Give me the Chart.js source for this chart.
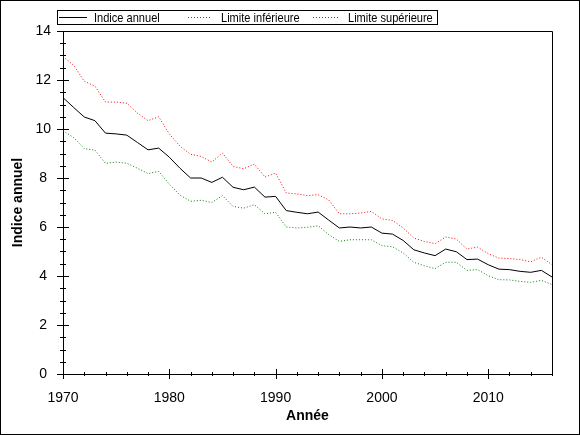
<!DOCTYPE html>
<html>
<head>
<meta charset="utf-8">
<script src="https://cdn.jsdelivr.net/npm/chart.js@4"></script>
<style>
  html, body { margin: 0; padding: 0; background: #fff; }
  #wrap { width: 580px; height: 435px; position: relative; }
</style>
</head>
<body>
<div id="wrap"><canvas id="myChart" width="580" height="435"></canvas></div>
<script>
// Données
let annees = [];
for (let a = 1970; a <= 2016; a++) annees.push(a);

let indiceAnnuel = [11.28, 10.88, 10.49, 10.34, 9.83, 9.8, 9.75, 9.45, 9.15, 9.22,
  8.85, 8.4, 8.0, 8.0, 7.82, 8.03, 7.62, 7.52, 7.63, 7.22,
  7.25, 6.67, 6.6, 6.54, 6.61, 6.28, 5.96, 6.0, 5.96, 6.0,
  5.75, 5.71, 5.45, 5.07, 4.94, 4.83, 5.1, 4.99, 4.67, 4.69,
  4.46, 4.28, 4.26, 4.19, 4.15, 4.23, 3.96];

let limiteInf = [9.93, 9.65, 9.2, 9.14, 8.6, 8.65, 8.6, 8.4, 8.18, 8.27,
  7.75, 7.3, 7.05, 7.09, 7.0, 7.28, 6.84, 6.77, 6.91, 6.54,
  6.6, 6.0, 5.96, 5.99, 6.05, 5.69, 5.41, 5.48, 5.48, 5.48,
  5.24, 5.19, 4.94, 4.56, 4.42, 4.3, 4.56, 4.56, 4.23, 4.26,
  4.01, 3.85, 3.84, 3.78, 3.74, 3.82, 3.65];

let limiteSup = [12.95, 12.6, 11.95, 11.75, 11.1, 11.1, 11.05, 10.65, 10.34, 10.5,
  9.8, 9.3, 8.97, 8.88, 8.65, 9.02, 8.47, 8.38, 8.57, 8.04,
  8.2, 7.39, 7.35, 7.28, 7.32, 7.1, 6.54, 6.54, 6.57, 6.64,
  6.33, 6.27, 5.96, 5.55, 5.41, 5.32, 5.59, 5.51, 5.1, 5.18,
  4.91, 4.73, 4.71, 4.67, 4.58, 4.77, 4.46];

let ticksX = [1970, 1980, 1990, 2000, 2010];
let ticksY = [0, 2, 4, 6, 8, 10, 12, 14];

let nomsSeries = ['Indice annuel', 'Limite inférieure', 'Limite supérieure'];
let couleurs = ['#000000', '#008000', '#ff0000'];

function points(valeurs) {
  return annees.map(function (a, i) { return { x: a, y: valeurs[i] }; });
}

let police = '"Liberation Sans", Arial, sans-serif';

// Cadre, graduations et légende dessinés à la main
const decor = {
  id: 'decor',
  afterDraw(chart) {
    const ctx = chart.ctx;
    const area = chart.chartArea;
    const sx = chart.scales.x;
    const sy = chart.scales.y;
    ctx.save();
    ctx.strokeStyle = '#000';
    ctx.lineWidth = 1;

    // bord de l'image
    ctx.strokeRect(0.5, 0.5, chart.width - 1, chart.height - 1);

    // haut et droite du cadre
    ctx.beginPath();
    ctx.moveTo(Math.round(area.left) + 0.5, Math.round(area.top) + 0.5);
    ctx.lineTo(Math.round(area.right) + 0.5, Math.round(area.top) + 0.5);
    ctx.lineTo(Math.round(area.right) + 0.5, Math.round(area.bottom) + 0.5);
    ctx.stroke();

    // graduations X
    ctx.beginPath();
    for (let a = 1970; a <= 2016; a += 2) {
      const px = Math.round(sx.getPixelForValue(a)) + 0.5;
      const l = (a % 10 === 0) ? 5 : 2;
      ctx.moveTo(px, area.bottom - l);
      ctx.lineTo(px, area.bottom + l);
    }
    // graduations Y
    for (let v = 0; v <= 14; v += 0.5) {
      const py = Math.round(sy.getPixelForValue(v)) + 0.5;
      const l = (v % 2 === 0) ? 6 : 3;
      ctx.moveTo(area.left - l, py);
      ctx.lineTo(area.left + l, py);
    }
    ctx.stroke();

    // légende
    ctx.strokeRect(57.5, 10.5, 380, 14);
    const items = [
      { x: 59, w: 28, tx: 94 },
      { x: 188, w: 24, tx: 221 },
      { x: 313, w: 25, tx: 348 }
    ];
    ctx.font = '13px ' + police;
    ctx.textBaseline = 'middle';
    items.forEach(function (it, i) {
      ctx.beginPath();
      ctx.strokeStyle = couleurs[i];
      ctx.setLineDash(i === 0 ? [] : [1, 2]);
      ctx.moveTo(it.x, 17.5);
      ctx.lineTo(it.x + it.w, 17.5);
      ctx.stroke();
      ctx.setLineDash([]);
      ctx.fillStyle = '#000';
      ctx.save();
      ctx.translate(it.tx, 18);
      ctx.scale(0.85, 1);
      ctx.fillText(nomsSeries[i], 0, 0);
      ctx.restore();
    });
    ctx.restore();
  }
};

const ctx = document.getElementById('myChart').getContext('2d');
const myChart = new Chart(ctx, {
  type: 'line',
  data: {
    datasets: [
      { label: nomsSeries[0], data: points(indiceAnnuel), borderColor: couleurs[0], borderWidth: 1 },
      { label: nomsSeries[1], data: points(limiteInf), borderColor: couleurs[1], borderWidth: 1, borderDash: [1, 2] },
      { label: nomsSeries[2], data: points(limiteSup), borderColor: couleurs[2], borderWidth: 1, borderDash: [1, 2] }
    ]
  },
  options: {
    responsive: false,
    animation: false,
    devicePixelRatio: 1,
    elements: { point: { radius: 0 }, line: { tension: 0 } },
    layout: { padding: { left: 0, top: 31, right: 28, bottom: 0 } },
    plugins: { legend: { display: false }, tooltip: { enabled: false } },
    scales: {
      x: {
        type: 'linear',
        min: 1970,
        max: 2016,
        afterBuildTicks: function (s) { s.ticks = ticksX.map(function (v) { return { value: v }; }); },
        afterFit: function (s) { s.height = 61; },
        grid: { display: false, drawTicks: false },
        border: { display: true, color: '#000', width: 1 },
        ticks: { color: '#000', padding: 16, font: { family: police, size: 14 }, callback: function (v) { return String(v); } },
        title: { display: true, text: 'Année', color: '#000', font: { family: police, size: 14, weight: 'bold' }, padding: { top: 0, bottom: 10 } }
      },
      y: {
        min: 0,
        max: 14,
        afterBuildTicks: function (s) { s.ticks = ticksY.map(function (v) { return { value: v }; }); },
        afterFit: function (s) { s.width = 63; },
        grid: { display: false, drawTicks: false },
        border: { display: true, color: '#000', width: 1 },
        ticks: { color: '#000', padding: 12, crossAlign: 'center', font: { family: police, size: 14 } },
        title: { display: true, text: 'Indice annuel', color: '#000', font: { family: police, size: 14, weight: 'bold' }, padding: { top: 10, bottom: 0 } }
      }
    }
  },
  plugins: [decor]
});
</script>
</body>
</html>
